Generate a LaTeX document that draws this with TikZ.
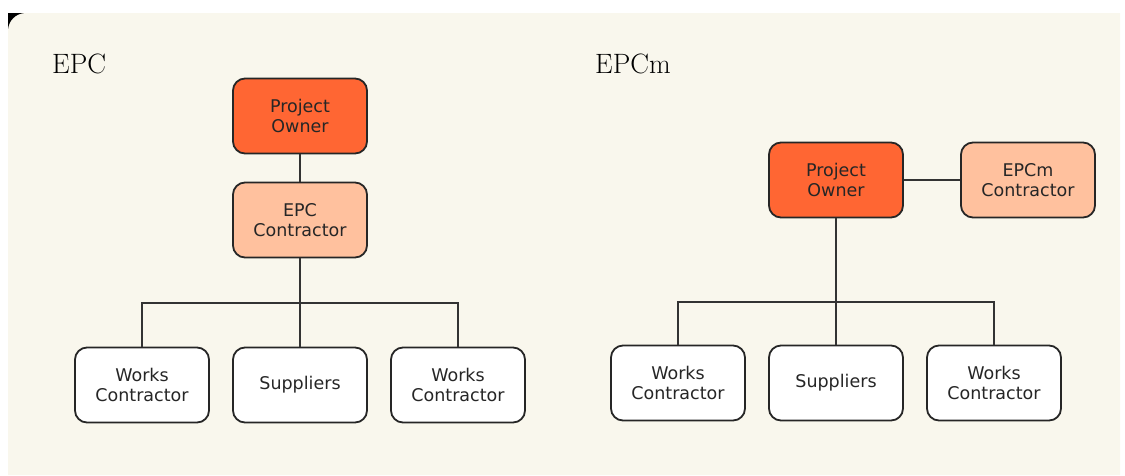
\documentclass[tikz,border=0pt]{standalone}
\usepackage{fontspec}
\newfontfamily\boxfont{DejaVu Sans}
\definecolor{paper}{HTML}{F9F7ED}
\definecolor{ownerred}{HTML}{FF6633}
\definecolor{contrpeach}{HTML}{FFC19E}
\definecolor{ink}{HTML}{333333}
\begin{document}
\begin{tikzpicture}
        [x=1pt, y=-1pt,
        box/.style={draw=black!85, line width=1.8pt, rounded corners=12pt,
            minimum width=134pt, minimum height=75pt, align=center, fill=white,
            font=\boxfont\fontsize{17.5}{20.5}\selectfont, text=black!85},
        owner/.style={box, fill=ownerred},
        contractor/.style={box, fill=contrpeach},
        edge/.style={ink, line width=1.6pt},
        title/.style={anchor=base west, inner sep=0pt, font=\fontsize{28}{32}\selectfont}]

        \useasboundingbox (0,0) rectangle (1125,475);

        % background card, black notch behind the rounded corner
        \fill[black] (8,13) rectangle (26,31);
        \fill[paper] (8,475) -- (8,31) [rounded corners=18pt] -- (8,13) [sharp corners] -- (1120,13) -- (1120,475) -- cycle;

        % --- EPC ---
        \node[title] (tepc) at (52,73) {EPC};

        \node[owner] (o1) at (300,116) {Project\\Owner};
        \node[contractor] (c1) at (300,220) {EPC\\Contractor};
        \node[box] (w1) at (142,385) {Works\\Contractor};
        \node[box] (s1) at (300,385) {Suppliers};
        \node[box] (w2) at (458,385) {Works\\Contractor};

        \coordinate (bus1) at (300,303);

        \draw[edge] (o1) -- (c1);
        \draw[edge] (c1) -- (s1);
        \draw[edge] (w1.north) |- (bus1) -| (w2.north);

        % --- EPCm ---
        \node[title] (tepcm) at (595,73) {EPCm};

        \node[owner] (o2) at (836,180) {Project\\Owner};
        \node[contractor] (c2) at (1028,180) {EPCm\\Contractor};
        \node[box] (w3) at (678,383) {Works\\Contractor};
        \node[box] (s2) at (836,383) {Suppliers};
        \node[box] (w4) at (994,383) {Works\\Contractor};

        \coordinate (bus2) at (836,302);

        \draw[edge] (o2) -- (c2);
        \draw[edge] (o2) -- (s2);
        \draw[edge] (w3.north) |- (bus2) -| (w4.north);
    \end{tikzpicture}
\end{document}
